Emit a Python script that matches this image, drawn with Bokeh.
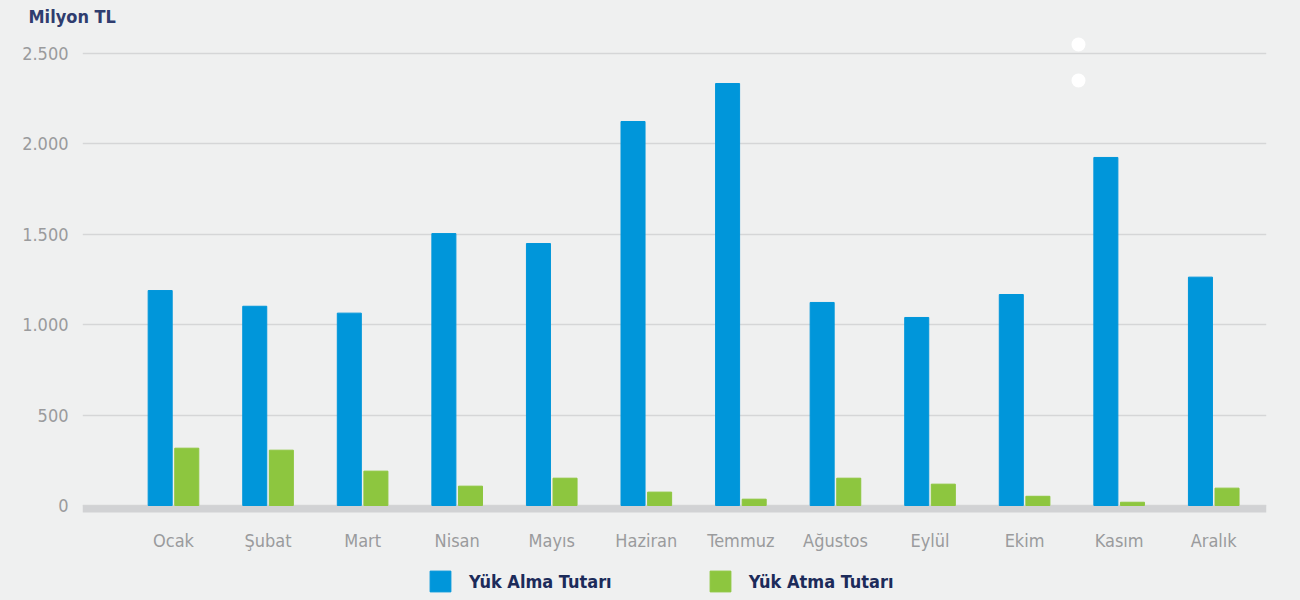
from bokeh.plotting import figure
from bokeh.layouts import column
from bokeh.models import (ColumnDataSource, FixedTicker, BoxAnnotation,
                          Legend, LegendItem, Range1d)
from bokeh.embed import file_html
from bokeh.resources import INLINE

months = ["Ocak", "Şubat", "Mart", "Nisan", "Mayıs", "Haziran", "Temmuz",
          "Ağustos", "Eylül", "Ekim", "Kasım", "Aralık"]
yuk_alma = [1189, 1102, 1064, 1504, 1449, 2124, 2334, 1123, 1040, 1167, 1925, 1263]
yuk_atma = [317, 306, 190, 107, 151, 74, 35, 151, 118, 51, 18, 96]
y_ticks = [0, 500, 1000, 1500, 2000, 2500]
y_tick_labels = ["0", "500", "1.000", "1.500", "2.000", "2.500"]
series_names = ["Yük Alma Tutarı", "Yük Atma Tutarı"]
unit_label = "Milyon TL"
deco_x = [9.57, 9.57]
deco_y = [2550, 2351]

BLUE = "#0096da"
GREEN = "#8dc63f"
BG = "#eff0f0"
FONT = "DejaVu Sans Condensed, Roboto, sans-serif"

idx = list(range(len(months)))
src = ColumnDataSource(dict(
    x1=[i - 0.1406 for i in idx], x2=[i + 0.1406 for i in idx],
    alma=yuk_alma, atma=yuk_atma))

p = figure(width=1300, height=560, output_backend="svg", toolbar_location=None,
           x_range=Range1d(-0.962, 11.558), y_range=Range1d(-38.7, 2638.3),
           background_fill_color=BG, border_fill_color=BG,
           min_border_left=82, min_border_right=34, min_border_top=28,
           min_border_bottom=48, title=unit_label)
p.outline_line_color = None
p.title.align = "left"
p.title.offset = -54
p.title.standoff = 0
p.title.vertical_align = "top"
p.title.text_font = FONT
p.title.text_font_size = "18px"
p.title.text_font_style = "bold"
p.title.text_color = "#2f3d6f"

p.add_layout(BoxAnnotation(bottom=-60, top=0, fill_color="#d1d2d4", fill_alpha=1,
                           line_color=None, level="underlay"))

r1 = p.vbar(x="x1", top="alma", width=0.254, source=src, color=BLUE)
r2 = p.vbar(x="x2", top="atma", width=0.254, source=src, color=GREEN)
p.scatter(deco_x, deco_y, size=14, color="white", line_color=None)

p.xgrid.visible = False
p.ygrid.grid_line_color = "#d5d6d7"
p.ygrid.grid_line_width = 1.6
p.ygrid.ticker = FixedTicker(ticks=y_ticks)

p.xaxis.ticker = FixedTicker(ticks=idx)
p.xaxis.major_label_overrides = {i: m for i, m in zip(idx, months)}
p.yaxis.ticker = FixedTicker(ticks=y_ticks)
p.yaxis.major_label_overrides = {t: l for t, l in zip(y_ticks, y_tick_labels)}
for ax in (p.xaxis[0], p.yaxis[0]):
    ax.axis_line_color = None
    ax.major_tick_line_color = None
    ax.minor_tick_line_color = None
    ax.major_label_text_font = FONT
    ax.major_label_text_font_size = "18px"
    ax.major_label_text_color = "#9a9b9d"
p.xaxis.major_label_standoff = 11
p.yaxis.major_label_standoff = 8

# legend strip below the chart (its frame is aligned with the chart frame)
lf = figure(width=1300, height=40, output_backend="svg", toolbar_location=None,
            x_range=Range1d(0, 1), y_range=Range1d(0, 1),
            x_axis_location=None, y_axis_location=None,
            background_fill_color=BG, border_fill_color=BG,
            min_border_left=82, min_border_right=34, min_border_top=0,
            min_border_bottom=0)
lf.outline_line_color = None
lf.grid.visible = False
lr1 = lf.vbar(x=[50], bottom=[-20], top=[-10], width=1, color=BLUE)
lr2 = lf.vbar(x=[50], bottom=[-20], top=[-10], width=1, color=GREEN)
lg = Legend(items=[LegendItem(label=series_names[0], renderers=[lr1]),
                   LegendItem(label=series_names[1], renderers=[lr2])],
            location=(345, 6), orientation="horizontal",
            padding=0, margin=0, spacing=95, border_line_color=None,
            background_fill_alpha=0,
            glyph_width=26, glyph_height=26, label_height=26, label_width=140,
            label_standoff=16, label_text_font=FONT, label_text_font_size="18px",
            label_text_font_style="bold", label_text_color="#1c2b5a")
lf.add_layout(lg, "center")

layout = column(p, lf, spacing=0)
html = file_html(layout, INLINE)
html = html.replace("<head>", "<head><style>body{background:%s;}</style>" % BG, 1)
open("out.html", "w").write(html)
